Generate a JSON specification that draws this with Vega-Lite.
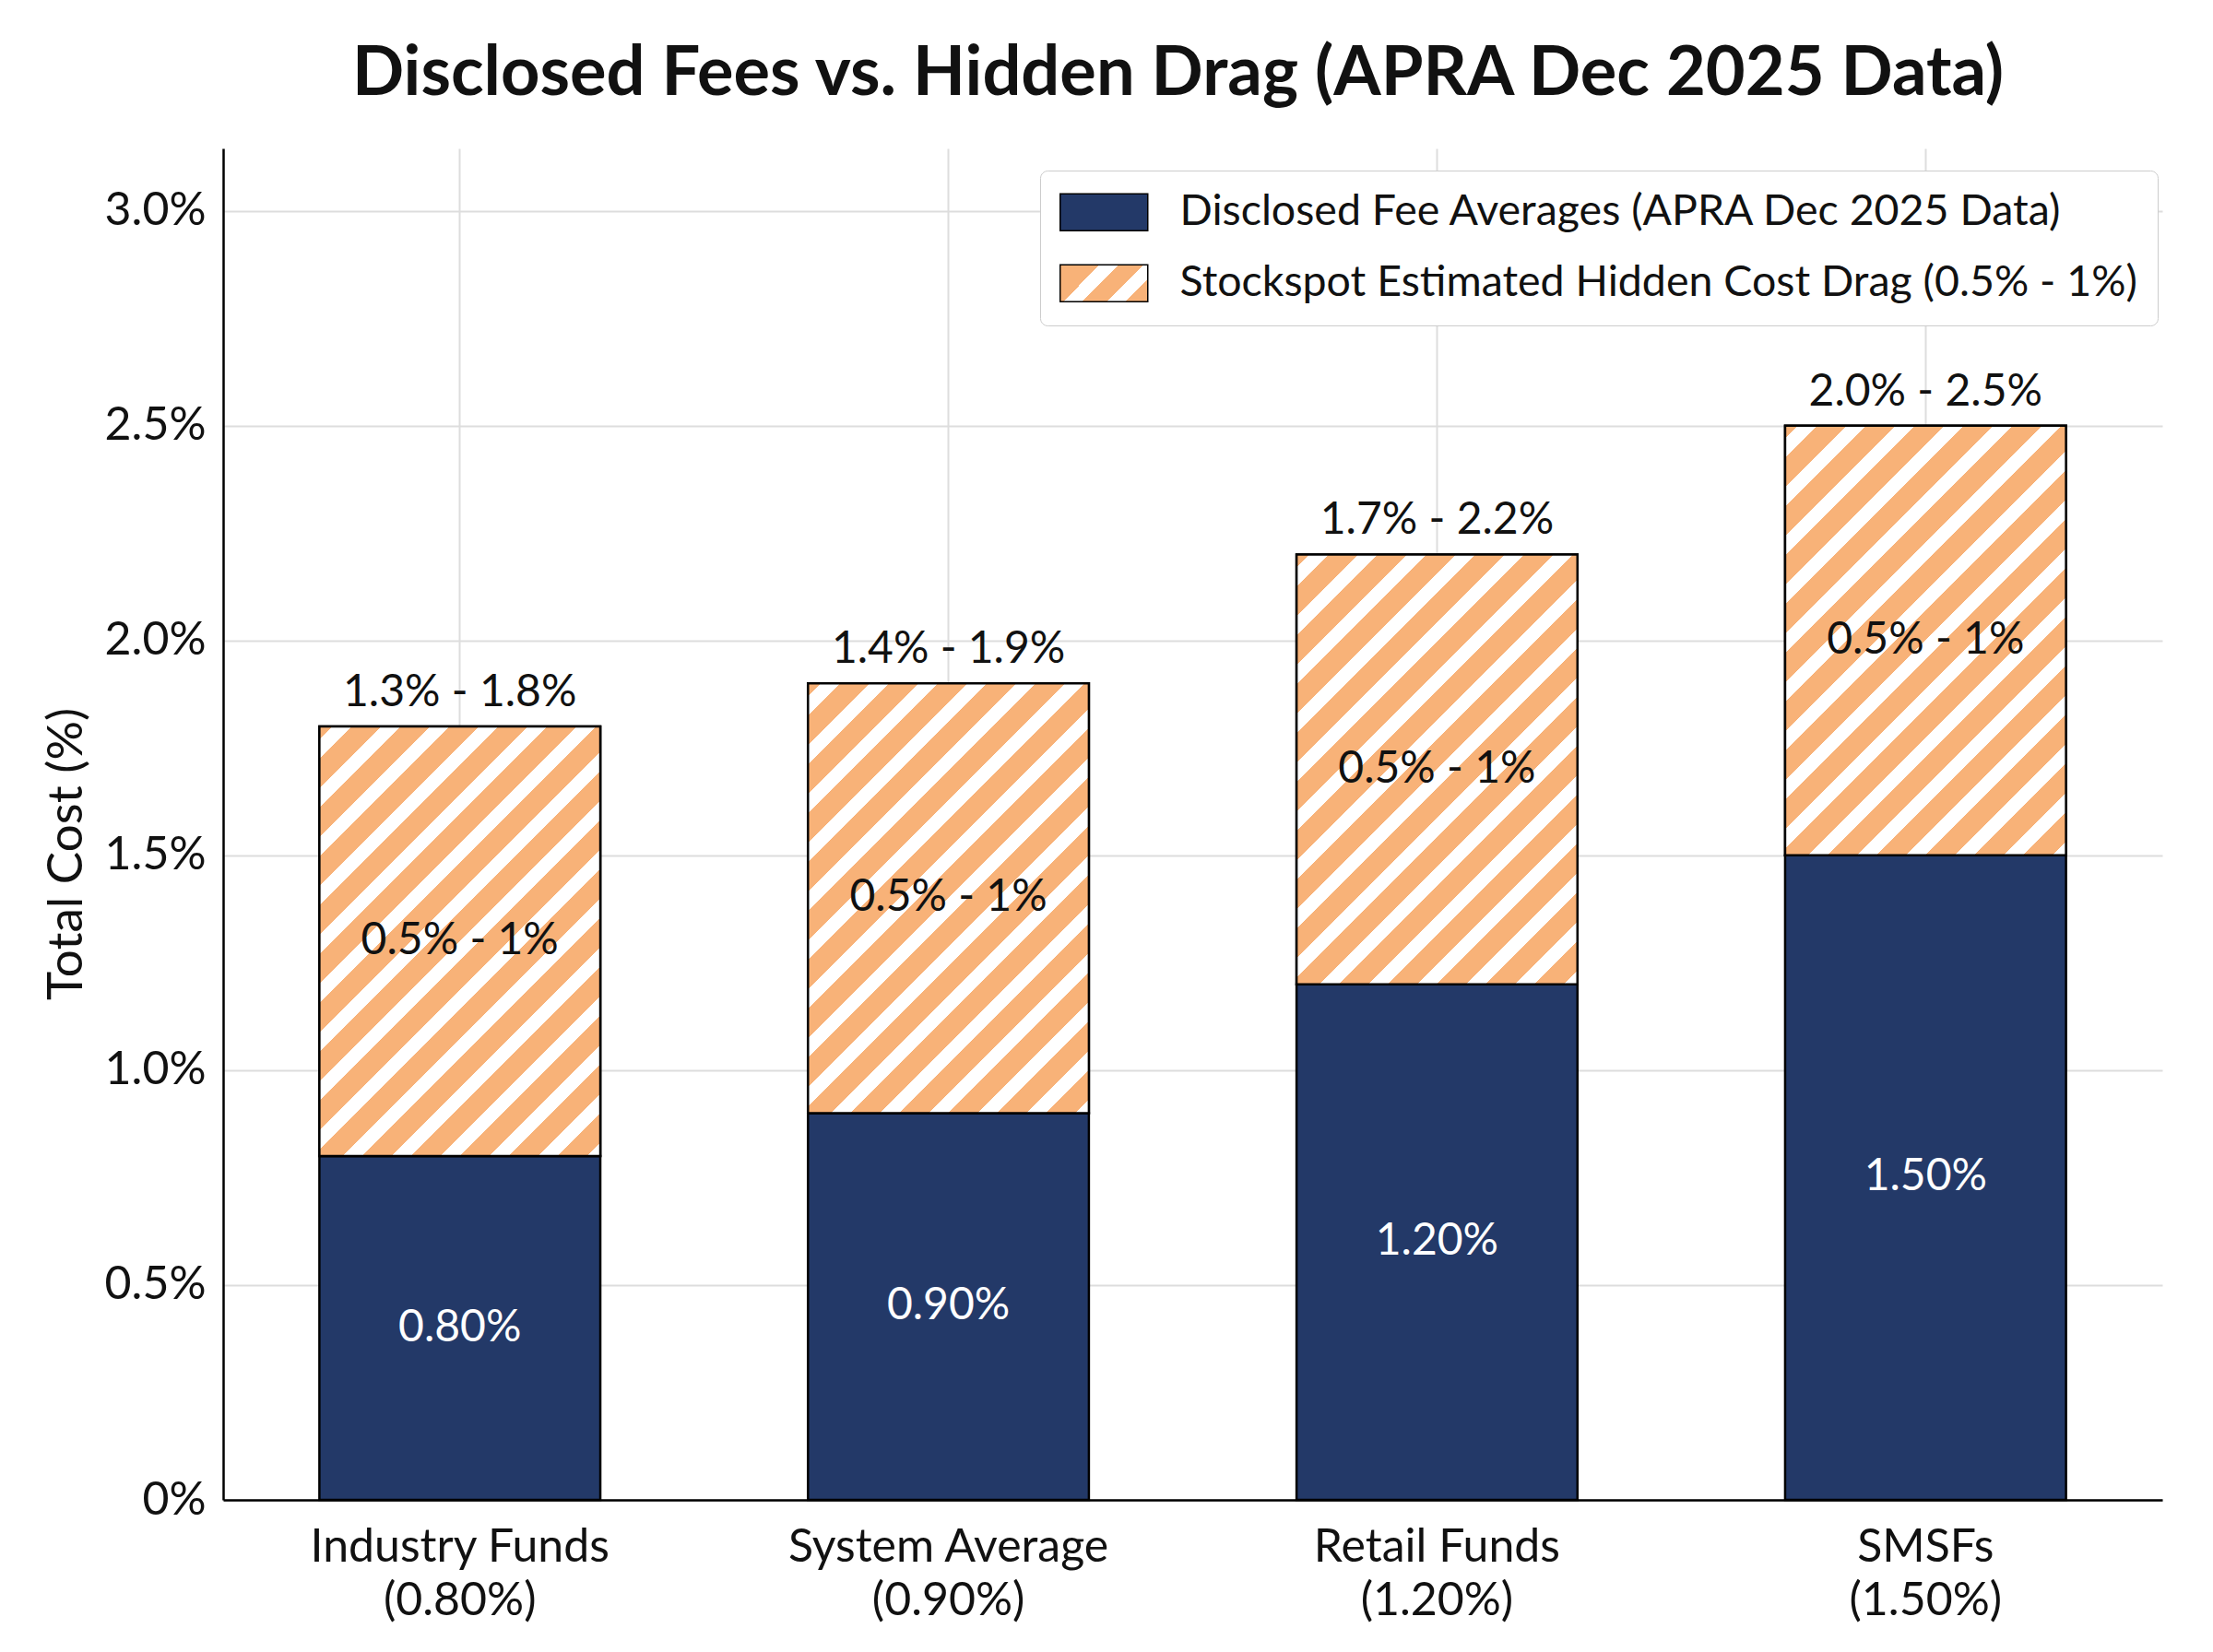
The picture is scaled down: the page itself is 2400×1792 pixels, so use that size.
{
  "$schema": "https://vega.github.io/schema/vega-lite/v6.json",
  "width": 2103,
  "height": 1466,
  "autosize": "none",
  "padding": {"left": 242, "top": 161, "right": 55, "bottom": 165},
  "background": "white",
  "title": {
    "text": "Disclosed Fees vs. Hidden Drag (APRA Dec 2025 Data)",
    "font": "Lato",
    "fontSize": 74,
    "fontWeight": "bold",
    "color": "#111111",
    "anchor": "middle",
    "frame": "group",
    "baseline": "alphabetic",
    "offset": -16,
    "dx": -16
  },
  "data": {
    "values": [
      {"fund": "Industry Funds (0.80%)", "series": "Disclosed Fee Averages (APRA Dec 2025 Data)", "lo": 0, "hi": 0.8, "label": "0.80%"},
      {"fund": "Industry Funds (0.80%)", "series": "Stockspot Estimated Hidden Cost Drag (0.5% - 1%)", "lo": 0.8, "hi": 1.8, "label": "0.5% - 1%", "range": "1.3% - 1.8%"},
      {"fund": "System Average (0.90%)", "series": "Disclosed Fee Averages (APRA Dec 2025 Data)", "lo": 0, "hi": 0.9, "label": "0.90%"},
      {"fund": "System Average (0.90%)", "series": "Stockspot Estimated Hidden Cost Drag (0.5% - 1%)", "lo": 0.9, "hi": 1.9, "label": "0.5% - 1%", "range": "1.4% - 1.9%"},
      {"fund": "Retail Funds (1.20%)", "series": "Disclosed Fee Averages (APRA Dec 2025 Data)", "lo": 0, "hi": 1.2, "label": "1.20%"},
      {"fund": "Retail Funds (1.20%)", "series": "Stockspot Estimated Hidden Cost Drag (0.5% - 1%)", "lo": 1.2, "hi": 2.2, "label": "0.5% - 1%", "range": "1.7% - 2.2%"},
      {"fund": "SMSFs (1.50%)", "series": "Disclosed Fee Averages (APRA Dec 2025 Data)", "lo": 0, "hi": 1.5, "label": "1.50%"},
      {"fund": "SMSFs (1.50%)", "series": "Stockspot Estimated Hidden Cost Drag (0.5% - 1%)", "lo": 1.5, "hi": 2.5, "label": "0.5% - 1%", "range": "2.0% - 2.5%"}
    ]
  },
  "layer": [
    {
      "mark": {"type": "bar", "stroke": "#000000", "strokeWidth": 2.5},
      "encoding": {
        "x": {
          "field": "fund",
          "type": "nominal",
          "sort": null,
          "title": null,
          "scale": {"paddingInner": 0.425, "paddingOuter": 0.197},
          "axis": {
            "labelAngle": 0,
            "labelExpr": "[slice(datum.label, 0, indexof(datum.label, ' (')), slice(datum.label, indexof(datum.label, ' (') + 1)]",
            "labelLineHeight": 58,
            "labelPadding": 26,
            "labelBaseline": "top",
            "labelLimit": 800,
            "labelFontSize": 50
          }
        },
        "y": {
          "field": "lo",
          "type": "quantitative",
          "title": "Total Cost (%)",
          "scale": {"domain": [0, 3.145], "nice": false, "zero": true},
          "axis": {
            "values": [0, 0.5, 1, 1.5, 2, 2.5, 3],
            "labelExpr": "datum.value === 0 ? '0%' : format(datum.value, '.1f') + '%'",
            "labelPadding": 19,
            "labelFontSize": 50,
            "titleFontSize": 53,
            "titleX": -170,
            "titleY": 765,
            "titleAngle": 270,
            "titleBaseline": "middle",
            "titleAlign": "center"
          }
        },
        "y2": {"field": "hi"},
        "fill": {
          "field": "series",
          "type": "nominal",
          "scale": {
            "domain": ["Disclosed Fee Averages (APRA Dec 2025 Data)", "Stockspot Estimated Hidden Cost Drag (0.5% - 1%)"],
            "range": [
              "#233968",
              {"expr": "{gradient: 'linear', x1: 0, y1: 0, x2: 1.2071, y2: 0.5082, stops: [{offset: 0, color: '#F8B278'}, {offset: 0.3185, color: '#F8B278'}, {offset: 0.3185, color: '#FFFFFF'}, {offset: 0.4667, color: '#FFFFFF'}, {offset: 0.4667, color: '#F8B278'}, {offset: 0.674, color: '#F8B278'}, {offset: 0.674, color: '#FFFFFF'}, {offset: 0.822, color: '#FFFFFF'}, {offset: 0.822, color: '#F8B278'}, {offset: 1, color: '#F8B278'}]}"}
            ]
          },
          "legend": {
            "title": null,
            "orient": "none",
            "legendX": 886,
            "legendY": 24,
            "padding": 22,
            "fillColor": "#FFFFFF",
            "strokeColor": "#CCCCCC",
            "cornerRadius": 8,
            "symbolType": "M-2.375,-1H2.375V1H-2.375Z",
            "symbolSize": 1600,
            "symbolOffset": 24,
            "symbolOpacity": 1,
            "labelFont": "Lato",
            "labelFontSize": 46.5,
            "labelColor": "#111111",
            "labelOffset": 59,
            "labelLimit": 2000,
            "rowPadding": 30,
            "encode": {
              "legend": {"strokeWidth": {"value": 2}},
              "symbols": {
                "stroke": {"value": "#000000"},
                "strokeWidth": {"value": 3}
              }
            }
          }
        }
      }
    },
    {
      "transform": [{"filter": "isValid(datum.range)"}],
      "mark": {
        "type": "bar",
        "stroke": "#000000",
        "strokeWidth": 2.5,
        "fill": {
          "gradient": "linear", "x1": 0, "y1": 0, "x2": 0.7574, "y2": 1.1586,
          "stops": [
            {"offset": 0, "color": "#F8B278"}, {"offset": 0.0182, "color": "#F8B278"}, {"offset": 0.0182, "color": "#FFFFFF"}, {"offset": 0.0454, "color": "#FFFFFF"},
            {"offset": 0.0454, "color": "#F8B278"}, {"offset": 0.0869, "color": "#F8B278"}, {"offset": 0.0869, "color": "#FFFFFF"}, {"offset": 0.1141, "color": "#FFFFFF"},
            {"offset": 0.1141, "color": "#F8B278"}, {"offset": 0.1556, "color": "#F8B278"}, {"offset": 0.1556, "color": "#FFFFFF"}, {"offset": 0.1829, "color": "#FFFFFF"},
            {"offset": 0.1829, "color": "#F8B278"}, {"offset": 0.2244, "color": "#F8B278"}, {"offset": 0.2244, "color": "#FFFFFF"}, {"offset": 0.2516, "color": "#FFFFFF"},
            {"offset": 0.2516, "color": "#F8B278"}, {"offset": 0.2931, "color": "#F8B278"}, {"offset": 0.2931, "color": "#FFFFFF"}, {"offset": 0.3204, "color": "#FFFFFF"},
            {"offset": 0.3204, "color": "#F8B278"}, {"offset": 0.3619, "color": "#F8B278"}, {"offset": 0.3619, "color": "#FFFFFF"}, {"offset": 0.3891, "color": "#FFFFFF"},
            {"offset": 0.3891, "color": "#F8B278"}, {"offset": 0.4306, "color": "#F8B278"}, {"offset": 0.4306, "color": "#FFFFFF"}, {"offset": 0.4579, "color": "#FFFFFF"},
            {"offset": 0.4579, "color": "#F8B278"}, {"offset": 0.4994, "color": "#F8B278"}, {"offset": 0.4994, "color": "#FFFFFF"}, {"offset": 0.5266, "color": "#FFFFFF"},
            {"offset": 0.5266, "color": "#F8B278"}, {"offset": 0.5681, "color": "#F8B278"}, {"offset": 0.5681, "color": "#FFFFFF"}, {"offset": 0.5953, "color": "#FFFFFF"},
            {"offset": 0.5953, "color": "#F8B278"}, {"offset": 0.6368, "color": "#F8B278"}, {"offset": 0.6368, "color": "#FFFFFF"}, {"offset": 0.6641, "color": "#FFFFFF"},
            {"offset": 0.6641, "color": "#F8B278"}, {"offset": 0.7056, "color": "#F8B278"}, {"offset": 0.7056, "color": "#FFFFFF"}, {"offset": 0.7328, "color": "#FFFFFF"},
            {"offset": 0.7328, "color": "#F8B278"}, {"offset": 0.7743, "color": "#F8B278"}, {"offset": 0.7743, "color": "#FFFFFF"}, {"offset": 0.8016, "color": "#FFFFFF"},
            {"offset": 0.8016, "color": "#F8B278"}, {"offset": 0.8431, "color": "#F8B278"}, {"offset": 0.8431, "color": "#FFFFFF"}, {"offset": 0.8703, "color": "#FFFFFF"},
            {"offset": 0.8703, "color": "#F8B278"}, {"offset": 0.9118, "color": "#F8B278"}, {"offset": 0.9118, "color": "#FFFFFF"}, {"offset": 0.939, "color": "#FFFFFF"},
            {"offset": 0.939, "color": "#F8B278"}, {"offset": 0.9805, "color": "#F8B278"}, {"offset": 0.9805, "color": "#FFFFFF"}, {"offset": 1, "color": "#FFFFFF"}
          ]
        }
      },
      "encoding": {
        "x": {"field": "fund", "type": "nominal", "sort": null, "title": null},
        "y": {
          "field": "lo",
          "type": "quantitative",
          "title": "Total Cost (%)",
          "scale": {"domain": [0, 3.145], "nice": false, "zero": true}
        },
        "y2": {"field": "hi"}
      }
    },
    {
      "transform": [{"fold": ["lo", "hi"], "as": ["edge", "v"]}],
      "mark": {"type": "text", "font": "Lato", "fontSize": 48, "baseline": "middle", "align": "center"},
      "encoding": {
        "x": {"field": "fund", "type": "nominal", "sort": null, "title": null},
        "y": {
          "aggregate": "mean",
          "field": "v",
          "type": "quantitative",
          "title": "Total Cost (%)",
          "scale": {"domain": [0, 3.145], "nice": false, "zero": true}
        },
        "detail": {"field": "series", "type": "nominal"},
        "text": {"field": "label"},
        "color": {
          "condition": {"test": "datum.series === 'Disclosed Fee Averages (APRA Dec 2025 Data)'", "value": "#FFFFFF"},
          "value": "#111111"
        }
      }
    },
    {
      "transform": [{"filter": "isValid(datum.range)"}],
      "mark": {"type": "text", "font": "Lato", "fontSize": 48, "baseline": "middle", "align": "center", "dy": -36, "color": "#111111"},
      "encoding": {
        "x": {"field": "fund", "type": "nominal", "sort": null, "title": null},
        "y": {
          "field": "hi",
          "type": "quantitative",
          "title": "Total Cost (%)",
          "scale": {"domain": [0, 3.145], "nice": false, "zero": true}
        },
        "text": {"field": "range"}
      }
    }
  ],
  "config": {
    "view": {"stroke": null},
    "font": "Lato",
    "axis": {
      "grid": true,
      "gridColor": "#DDDDDD",
      "gridWidth": 2,
      "ticks": false,
      "domainColor": "#000000",
      "domainWidth": 2.5,
      "labelFont": "Lato",
      "labelColor": "#111111",
      "titleFont": "Lato",
      "titleFontWeight": "normal",
      "titleColor": "#111111"
    },
    "axisBand": {"bandPosition": 0.5}
  }
}
